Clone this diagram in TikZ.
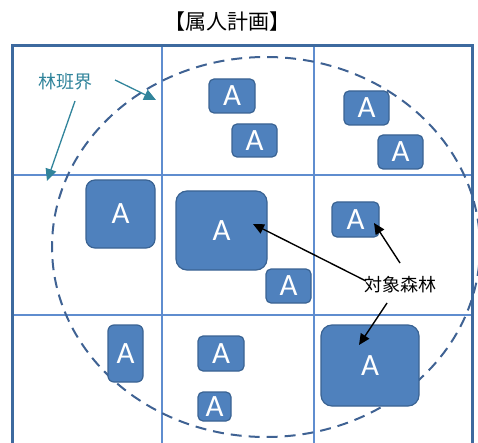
\documentclass[tikz,border=0pt]{standalone}
\usepackage{fontspec}
\setmainfont{Carlito}
\newfontfamily\jpfont{Noto Sans CJK JP}
\usetikzlibrary{arrows.meta}
\definecolor{framec}{HTML}{3D6A9F}
\definecolor{gridc}{HTML}{5F8DCF}
\definecolor{boxfill}{HTML}{4F81BD}
\definecolor{boxline}{HTML}{3A6393}
\definecolor{ellc}{HTML}{3F6293}
\definecolor{tealc}{HTML}{31849B}
\tikzset{
  forest/.style={draw=boxline, line width=1.2pt, fill=boxfill},
  alabel/.style={text=white, font=\fontsize{31}{31}\selectfont},
  gridline/.style={draw=gridc, line width=1.6pt},
  tealarrow/.style={draw=tealc, line width=1.3pt, -{Triangle[length=12pt,width=11pt]}},
  blackarrow/.style={draw=black, line width=1.4pt, -{Triangle[length=11pt,width=10pt]}},
}
\begin{document}
\begin{tikzpicture}[x=1pt,y=-1pt]
\useasboundingbox (0,0) rectangle (478,443);
% grid
\draw[gridline] (162,45) -- (162,445);
\draw[gridline] (314,45) -- (314,445);
\draw[gridline] (13,175) -- (473,175);
\draw[gridline] (13,315) -- (473,315);
% frame
\draw[framec, line width=3pt] (12.5,450) -- (12.5,45.5) -- (472.5,45.5) -- (472.5,450);
% dashed ellipse
\draw[ellc, line width=2pt, dash pattern=on 11pt off 7pt] (266,247) ellipse [x radius=214, y radius=190];
% forests
\foreach \n/\xa/\ya/\xb/\yb/\r in {
  b1/209/79/255/113/5, b2/232/124/277/157/5, b3/344/91/389/125/5, b4/378/135/423/169/5,
  b5/86/180/155/248/9, b6/176/191/267/270/11, b7/266/269/311/303/5, b8/332/202/379/237/5,
  b9/108/325/143/382/6, b10/198/336/244/371/5, b11/198/392/231/421/5, b12/321/325/419/406/11}{
  \draw[forest, rounded corners=\r pt] (\xa,\ya) rectangle (\xb,\yb);
  \node[alabel] (\n) at ({(\xa+\xb)/2},{(\ya+\yb)/2}) {A};
}
% title
\node[font=\jpfont\fontsize{21}{21}\selectfont] (title) at (227,22) {【属人計画】};
% labels
\node[font=\jpfont\fontsize{18}{18}\selectfont, text=tealc] (rinpan) at (65,82) {林班界};
\node[font=\jpfont\fontsize{18}{18}\selectfont] (taisho) at (400,285) {対象森林};
\coordinate (t1) at (156,100);
\coordinate (t2) at (47,181);
\draw[tealarrow] (115,80) -- (t1);
\draw[tealarrow] (75,101) -- (t2);
\coordinate (a1) at (253,224);
\coordinate (a2) at (374,223);
\coordinate (a3) at (359,345);
\draw[blackarrow] (366,281) -- (a1);
\draw[blackarrow] (400,263) -- (a2);
\draw[blackarrow] (387,303) -- (a3);
\end{tikzpicture}
\end{document}
